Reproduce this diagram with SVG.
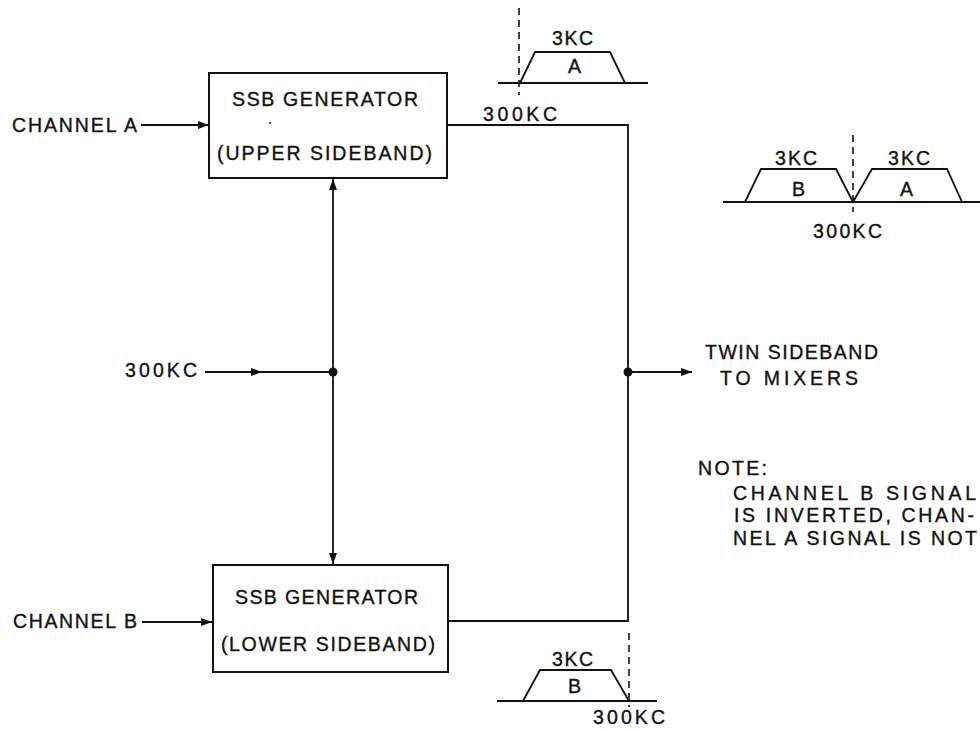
<svg xmlns="http://www.w3.org/2000/svg" width="980" height="729" viewBox="0 0 980 729">
<style>
text{font-family:"Liberation Sans",Arial,sans-serif;font-size:19.5px;fill:#111;stroke:#111;stroke-width:0.35;}
.box{fill:#fff;stroke:#111;stroke-width:2;}
.ln{fill:none;stroke:#111;stroke-width:1.8;}
.dash{fill:none;stroke:#111;stroke-width:1.6;stroke-dasharray:7,5;}
.dot{fill:#111;}
</style>
<defs>
<marker id="ah" viewBox="0 0 11 8" refX="11" refY="4" markerWidth="11" markerHeight="8" markerUnits="userSpaceOnUse" orient="auto">
<path d="M0,0 L11,4 L0,8 Z" fill="#111"/>
</marker>
</defs>
<rect width="980" height="729" fill="#fff"/>

<g id="connectors">
<line class="ln" x1="141" y1="125" x2="209" y2="125" marker-end="url(#ah)"/>
<line class="ln" x1="142" y1="622" x2="212" y2="622" marker-end="url(#ah)"/>
<line class="ln" x1="205" y1="372" x2="262" y2="372" marker-end="url(#ah)"/>
<line class="ln" x1="255" y1="372" x2="333" y2="372"/>
<line class="ln" x1="333" y1="372" x2="333" y2="179" marker-end="url(#ah)"/>
<line class="ln" x1="333" y1="372" x2="333" y2="564" marker-end="url(#ah)"/>
<circle class="dot" cx="333" cy="372" r="4.5"/>
<polyline class="ln" points="447,125 628,125 628,621 448,621"/>
<circle class="dot" cx="628" cy="372" r="4.5"/>
<line class="ln" x1="628" y1="372" x2="692" y2="372" marker-end="url(#ah)"/>
</g>

<g id="gen-upper">
<rect class="box" x="209" y="73" width="238" height="105"/>
<text x="232" y="106" textLength="186" lengthAdjust="spacing">SSB GENERATOR</text>
<text x="217" y="160" textLength="215" lengthAdjust="spacing">(UPPER SIDEBAND)</text>
<circle class="dot" cx="270" cy="123" r="1"/>
</g>

<g id="gen-lower">
<rect class="box" x="213" y="565" width="235" height="107"/>
<text x="235" y="604" textLength="183" lengthAdjust="spacing">SSB GENERATOR</text>
<text x="221" y="651" textLength="214" lengthAdjust="spacing">(LOWER SIDEBAND)</text>
</g>

<g id="in-a"><text x="12" y="132" textLength="125" lengthAdjust="spacing">CHANNEL A</text></g>
<g id="in-b"><text x="13" y="628" textLength="124" lengthAdjust="spacing">CHANNEL B</text></g>
<g id="in-osc"><text x="125" y="377" textLength="72" lengthAdjust="spacing">300KC</text></g>

<g id="out">
<text x="705" y="359" textLength="173" lengthAdjust="spacing">TWIN SIDEBAND</text>
<text x="720" y="385" textLength="138" lengthAdjust="spacing">TO MIXERS</text>
</g>

<g id="spec-top">
<line class="dash" x1="519" y1="8" x2="519" y2="95"/>
<line class="ln" x1="498" y1="83" x2="648" y2="83"/>
<polyline class="ln" points="520,83 535,52 610,52 625,83"/>
<text x="552" y="45" textLength="41" lengthAdjust="spacing">3KC</text>
<text x="568" y="73">A</text>
<text x="483" y="121" textLength="74" lengthAdjust="spacing">300KC</text>
</g>

<g id="spec-twin">
<line class="dash" x1="853" y1="135" x2="853" y2="212"/>
<line class="ln" x1="723" y1="202" x2="980" y2="202"/>
<polyline class="ln" points="745,202 761,169 836,169 853,202 872,169 947,169 962,202"/>
<text x="775" y="165" textLength="42" lengthAdjust="spacing">3KC</text>
<text x="888" y="165" textLength="42" lengthAdjust="spacing">3KC</text>
<text x="792" y="196">B</text>
<text x="900" y="196">A</text>
<text x="813" y="238" textLength="69" lengthAdjust="spacing">300KC</text>
</g>

<g id="spec-bottom">
<line class="dash" x1="629" y1="633" x2="629" y2="707"/>
<line class="ln" x1="497" y1="701" x2="657" y2="701"/>
<polyline class="ln" points="523,701 540,670 611,670 629,701"/>
<text x="552" y="666" textLength="41" lengthAdjust="spacing">3KC</text>
<text x="568" y="693">B</text>
<text x="593" y="724" textLength="72" lengthAdjust="spacing">300KC</text>
</g>

<g id="note">
<text x="698" y="475" textLength="69" lengthAdjust="spacing">NOTE:</text>
<text x="733" y="500" textLength="243" lengthAdjust="spacing">CHANNEL B SIGNAL</text>
<text x="734" y="522" textLength="240" lengthAdjust="spacing">IS INVERTED, CHAN-</text>
<text x="733" y="545" textLength="244" lengthAdjust="spacing">NEL A SIGNAL IS NOT</text>
</g>
</svg>
